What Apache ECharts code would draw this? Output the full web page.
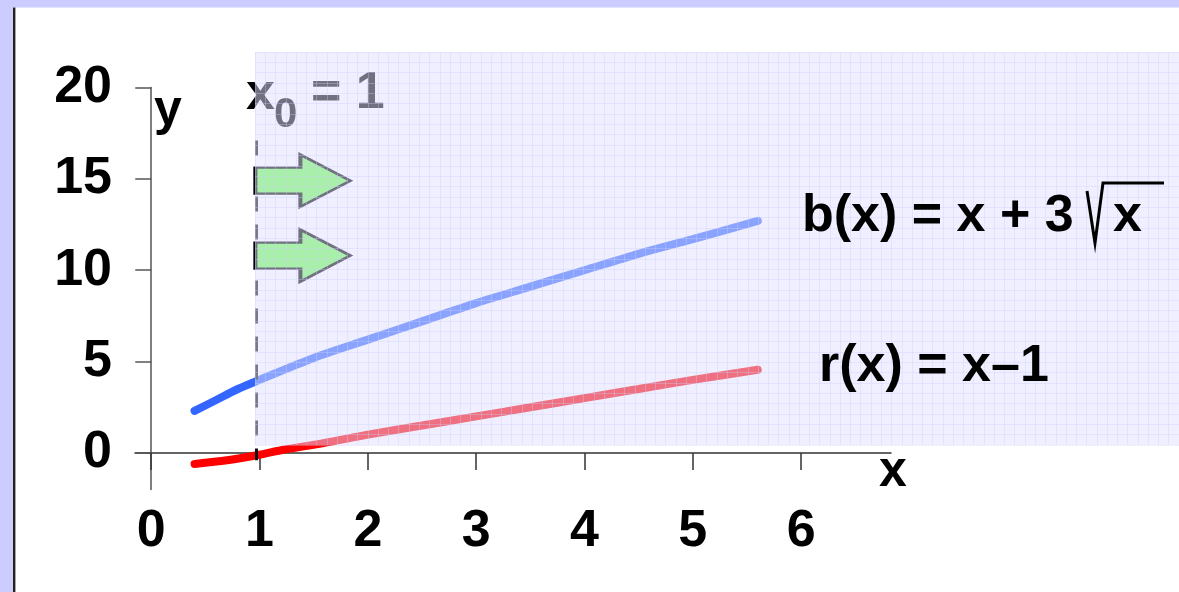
<!DOCTYPE html>
<html>
<head>
<meta charset="utf-8">
<script src="https://cdn.jsdelivr.net/npm/echarts@6/dist/echarts.min.js"></script>
<style>
  html, body { margin: 0; padding: 0; background: #fff; }
  #chart { width: 1179px; height: 592px; }
</style>
</head>
<body>
<div id="chart"></div>
<script>
// values
const bX = [0.4, 0.6, 0.8, 1, 1.5, 2, 2.5, 3, 3.5, 4, 4.5, 5, 5.6];
const bY = [2.3, 2.9, 3.5, 4.0, 5.2, 6.2, 7.2, 8.2, 9.1, 10.0, 10.9, 11.7, 12.7];
const rX = [0.4, 0.7, 0.95, 1.2, 1.6, 2, 2.5, 3, 3.5, 4, 4.5, 5, 5.6];
const rY = [-0.6, -0.4, -0.15, 0.15, 0.55, 1.0, 1.5, 2.0, 2.5, 3.0, 3.5, 4.0, 4.55];
const xTicks = [0, 1, 2, 3, 4, 5, 6];
const yTicks = [0, 5, 10, 15, 20];
const x0 = 0.97;
const arrowY = [14.9, 10.8];

const FONT = "Liberation Sans";
const bold = (size) => "bold " + size + "px \"" + FONT + "\"";

const myChart = echarts.init(document.getElementById("chart"));

const option = {
  animation: false,
  backgroundColor: "#ffffff",
  grid: [
    { left: 135, right: 288, top: 87.5, bottom: 102.5 },
    // shaded overlay with the fine grid
    {
      left: 255, right: 0, top: 52, bottom: 147,
      show: true,
      backgroundColor: "rgba(223,223,255,0.5)",
      borderWidth: 0,
      z: 10,
    },
  ],
  xAxis: [
    {
      type: "value",
      min: -0.15,
      max: 6.83,
      axisLine: { lineStyle: { color: "#333", width: 1.5 } },
      axisTick: {
        customValues: xTicks,
        length: 17,
        lineStyle: { color: "#333", width: 1.5 },
      },
      axisLabel: {
        customValues: xTicks,
        color: "#000",
        fontFamily: FONT,
        fontWeight: "bold",
        fontSize: 52,
        margin: 16,
      },
      splitLine: { show: false },
    },
    {
      type: "value",
      gridIndex: 1,
      min: 0,
      max: 90,
      interval: 1,
      z: 11,
      axisLine: { show: false },
      axisTick: { show: false },
      axisLabel: { show: false },
      splitLine: { lineStyle: { color: "rgba(205,205,250,0.35)", width: 1 } },
    },
  ],
  yAxis: [
    {
      type: "value",
      min: -2,
      max: 20,
      axisLine: { show: true, lineStyle: { color: "#555", width: 1.5 } },
      axisTick: {
        show: true,
        customValues: yTicks,
        length: 16,
        lineStyle: { color: "#555", width: 1.5 },
      },
      axisLabel: {
        customValues: yTicks,
        color: "#000",
        fontFamily: FONT,
        fontWeight: "bold",
        fontSize: 52,
        margin: 23,
      },
      splitLine: { show: false },
    },
    {
      type: "value",
      gridIndex: 1,
      min: 0,
      max: 38,
      interval: 1,
      z: 11,
      axisLine: { show: false },
      axisTick: { show: false },
      axisLabel: { show: false },
      splitLine: { lineStyle: { color: "rgba(205,205,250,0.35)", width: 1 } },
    },
  ],
  series: [
    {
      name: "b",
      type: "line",
      data: bX.map((x, i) => [x, bY[i]]),
      smooth: 0.3,
      symbol: "none",
      lineStyle: { color: "#3366ff", width: 8, cap: "round" },
      markPoint: {
        symbol: "path://M0,13L45,13L45,0L95,26L45,52L45,39L0,39Z",
        symbolSize: [95, 52],
        itemStyle: { color: "#70ff55", borderColor: "#000", borderWidth: 3 },
        label: { show: false },
        silent: true,
        data: arrowY.map((y) => ({ coord: [1.4, y] })),
      },
    },
    {
      name: "r",
      type: "line",
      data: rX.map((x, i) => [x, rY[i]]),
      smooth: 0.3,
      symbol: "none",
      lineStyle: { color: "#ff0000", width: 8, cap: "round" },
      markLine: {
        symbol: ["none", "none"],
        silent: true,
        label: { show: false },
        lineStyle: { color: "#111", width: 3, type: [15, 13] },
        data: [[{ coord: [x0, 17.1] }, { coord: [x0, -0.4] }]],
      },
    },
  ],
  graphic: [
    // page frame
    { type: "rect", shape: { x: 0, y: 0, width: 1179, height: 7.5 }, style: { fill: "#ccccff" }, z: 1 },
    { type: "rect", shape: { x: 0, y: 0, width: 13, height: 592 }, style: { fill: "#ccccff" }, z: 1 },
    { type: "rect", shape: { x: 13, y: 7.5, width: 2.4, height: 585 }, style: { fill: "#222" }, z: 1 },
    // axis names
    { type: "text", x: 154, y: 111, z: 20, style: { text: "y", font: bold(50), fill: "#000", verticalAlign: "middle" } },
    { type: "text", x: 879, y: 472, z: 20, style: { text: "x", font: bold(50), fill: "#000", verticalAlign: "middle" } },
    // x0 = 1 (under the overlay)
    { type: "text", x: 246, y: 95, z: 5, style: { text: "x", font: bold(52), fill: "#000", verticalAlign: "middle" } },
    { type: "text", x: 274, y: 115, z: 5, style: { text: "0", font: bold(42), fill: "#000", verticalAlign: "middle" } },
    { type: "text", x: 311, y: 94, z: 5, style: { text: "= 1", font: bold(52), fill: "#000", verticalAlign: "middle" } },
    // formulas
    { type: "text", x: 802, y: 217, z: 20, style: { text: "b(x) = x + 3", font: bold(52), fill: "#000", verticalAlign: "middle" } },
    { type: "polyline", z: 20, shape: { points: [[1087, 191], [1095, 243], [1103, 183], [1164, 183]] }, style: { stroke: "#000", lineWidth: 3, fill: null } },
    { type: "text", x: 1113, y: 217, z: 20, style: { text: "x", font: bold(52), fill: "#000", verticalAlign: "middle" } },
    { type: "text", x: 819, y: 367, z: 20, style: { text: "r(x) = x\u20131", font: bold(52), fill: "#000", verticalAlign: "middle" } },
  ],
};

option && myChart.setOption(option);
</script>
</body>
</html>
